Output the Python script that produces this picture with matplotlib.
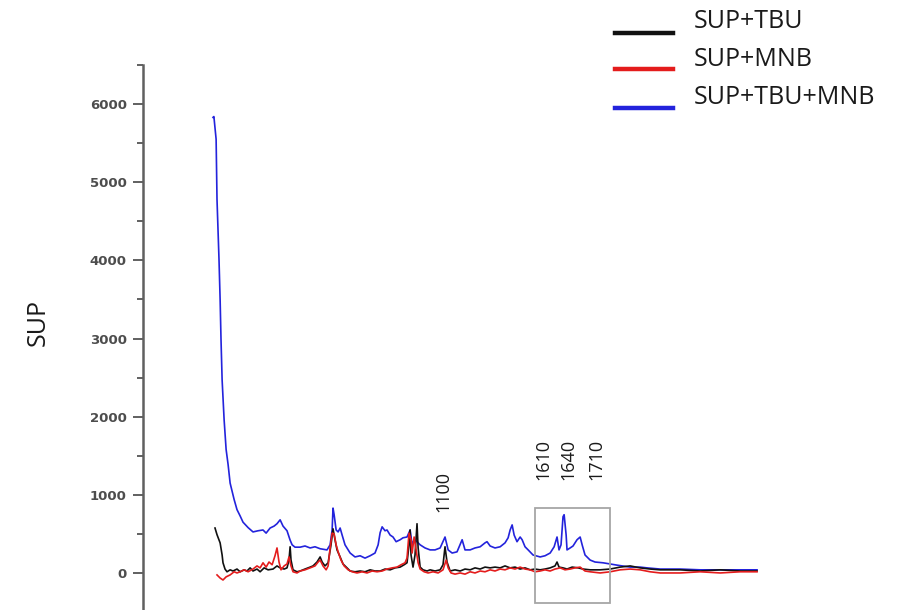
import matplotlib
matplotlib.use("Agg")
import matplotlib.pyplot as plt
from matplotlib.lines import Line2D
from matplotlib.patches import Rectangle
from matplotlib.ticker import MultipleLocator

# ---- data (Raman shift, intensity) ----
blue_x = [56, 60, 70, 74, 83, 88, 92, 97, 106, 115, 124, 133, 151, 164, 178, 191, 214, 236, 259, 281,
          295, 313, 331, 344, 358, 371, 389, 403, 412, 425, 448, 470, 493, 515, 538, 569, 583, 592, 596,
          601, 610, 619, 628, 637, 650, 673, 695, 718, 740, 763, 785, 799, 808, 817, 830, 839, 853, 866,
          880, 898, 911, 929, 943, 952, 961, 974, 988, 1010, 1033, 1055, 1078, 1100, 1114, 1132, 1154,
          1177, 1190, 1213, 1235, 1258, 1280, 1289, 1303, 1325, 1348, 1370, 1384, 1393, 1402, 1411, 1424,
          1438, 1447, 1460, 1474, 1496, 1528, 1550, 1573, 1591, 1604, 1613, 1622, 1631, 1636, 1645, 1649,
          1663, 1676, 1694, 1708, 1717, 1730, 1753, 1775, 1811, 1843, 1874, 1933, 1978, 2009, 2068, 2158,
          2248, 2338, 2428, 2504]
blue_y = [5830, 5840, 5550, 4780, 4010, 3500, 2990, 2470, 1960, 1580, 1385, 1150, 940, 810, 730, 650, 580,
          525, 540, 550, 510, 575, 600, 630, 680, 600, 540, 420, 360, 330, 330, 345, 320, 335, 310, 295,
          360, 550, 830, 745, 550, 525, 575, 485, 360, 255, 205, 220, 190, 220, 255, 360, 515, 590, 540,
          550, 485, 460, 400, 425, 450, 460, 550, 360, 425, 400, 360, 320, 295, 295, 320, 460, 295, 255,
          270, 425, 295, 295, 320, 335, 385, 400, 345, 320, 335, 385, 450, 550, 615, 485, 400, 460, 425,
          335, 295, 230, 205, 220, 255, 335, 460, 295, 360, 720, 745, 485, 295, 320, 345, 425, 460, 360,
          230, 165, 140, 130, 115, 100, 75, 75, 65, 50, 50, 40, 40, 40, 40]

black_x = [65, 74, 88, 97, 101, 110, 119, 133, 146, 164, 178, 196, 209, 223, 236, 254, 268, 286, 304, 326,
           344, 358, 376, 389, 398, 403, 407, 416, 434, 448, 470, 493, 506, 524, 538, 547, 560, 574, 587,
           596, 605, 614, 628, 641, 659, 673, 695, 718, 740, 763, 785, 808, 830, 853, 875, 898, 916, 929,
           938, 943, 947, 956, 965, 974, 979, 988, 1001, 1019, 1033, 1055, 1078, 1091, 1100, 1109, 1123,
           1145, 1168, 1190, 1213, 1235, 1258, 1280, 1303, 1325, 1348, 1370, 1393, 1415, 1438, 1460, 1483,
           1505, 1528, 1550, 1573, 1595, 1604, 1613, 1631, 1649, 1672, 1699, 1721, 1753, 1798, 1843, 1888,
           1933, 1978, 2023, 2068, 2158, 2248, 2338, 2428, 2504]
black_y = [575, 490, 385, 230, 130, 50, 15, 40, 25, 50, 15, 40, 25, 65, 25, 50, 15, 65, 40, 50, 90, 65, 50,
           65, 165, 335, 165, 40, 15, 25, 50, 75, 90, 140, 205, 140, 90, 130, 360, 565, 425, 295, 205, 115,
           65, 25, 15, 25, 15, 40, 25, 25, 50, 40, 65, 75, 105, 130, 360, 550, 230, 75, 230, 630, 320, 75,
           40, 25, 40, 25, 40, 105, 335, 140, 25, 40, 25, 50, 40, 65, 50, 75, 65, 75, 65, 90, 65, 75, 50,
           65, 40, 50, 40, 50, 65, 90, 140, 75, 65, 50, 75, 65, 50, 40, 40, 50, 75, 90, 65, 50, 40, 40, 25,
           40, 25, 25]

red_x = [74, 88, 101, 115, 133, 151, 164, 178, 196, 214, 236, 254, 268, 281, 295, 308, 322, 335, 344, 353,
         362, 376, 389, 398, 407, 416, 434, 448, 470, 493, 515, 529, 538, 551, 565, 574, 583, 592, 601, 610,
         619, 632, 646, 664, 682, 704, 727, 749, 772, 794, 817, 839, 862, 884, 902, 920, 929, 938, 947, 952,
         961, 970, 979, 988, 1006, 1024, 1046, 1069, 1091, 1105, 1114, 1127, 1145, 1168, 1190, 1213, 1235,
         1258, 1280, 1303, 1325, 1348, 1370, 1393, 1415, 1438, 1460, 1483, 1505, 1528, 1550, 1573, 1595,
         1618, 1640, 1663, 1685, 1708, 1730, 1753, 1798, 1843, 1888, 1933, 1978, 2023, 2068, 2158, 2248,
         2338, 2428, 2504]
red_y = [-25, -65, -90, -50, -25, 15, 0, 15, 40, 15, 50, 90, 65, 130, 75, 140, 105, 220, 320, 140, 40, 90,
         115, 205, 90, 15, 0, 25, 40, 65, 90, 140, 165, 90, 40, 90, 320, 510, 500, 360, 270, 165, 90, 40,
         15, 0, 15, 0, 25, 15, 25, 50, 65, 75, 105, 130, 190, 510, 425, 255, 460, 295, 130, 50, 15, 0, 15,
         0, 40, 165, 65, 0, -15, 0, -15, 15, 0, 25, 15, 40, 25, 50, 40, 65, 50, 75, 50, 40, 15, 25, 40, 25,
         50, 65, 40, 50, 65, 75, 25, 15, 0, 15, 40, 50, 40, 15, 0, 0, 15, 0, 15, 15]

series_labels = ["SUP+TBU", "SUP+MNB", "SUP+TBU+MNB"]
peak_labels = ["1100", "1610", "1640", "1710"]
peak_label_x = [1091, 1541, 1653, 1779]
peak_label_y = [780, 1190, 1190, 1190]
box_x = [1505, 1843]
box_y = [-385, 830]
y_ticks = [0, 1000, 2000, 3000, 4000, 5000, 6000]

W, H, DPI = 904, 610, 100
fig = plt.figure(figsize=(W / DPI, H / DPI), dpi=DPI)
fig.patch.set_facecolor("white")

ax = fig.add_axes([143 / W, 0.0, (800.6 - 143) / W, 545 / H])
ax.set_xlim(-259, 2700)
ax.set_ylim(-474, 6500)

ax.plot(blue_x, blue_y, color="#2323dc", lw=1.2, zorder=2)
ax.plot(black_x, black_y, color="#111111", lw=1.2, zorder=3)
ax.plot(red_x, red_y, color="#e41c1c", lw=1.2, zorder=4)

ax.add_patch(Rectangle((box_x[0], box_y[0]), box_x[1] - box_x[0], box_y[1] - box_y[0],
                       fill=False, edgecolor="#a6a6a6", lw=1.3, zorder=5))

for lab, lx, ly in zip(peak_labels, peak_label_x, peak_label_y):
    ax.text(lx, ly, lab, rotation=90, ha="center", va="bottom", fontsize=13,
            family="Open Sans", color="#1a1a1a")

for s in ["top", "right", "bottom"]:
    ax.spines[s].set_visible(False)
ax.spines["left"].set_color("#606060")
ax.spines["left"].set_linewidth(1.8)
ax.set_yticks(y_ticks)
ax.yaxis.set_minor_locator(MultipleLocator(500))
ax.tick_params(axis="y", which="major", length=7.2, width=1.4, color="#606060",
               labelsize=9.5, labelcolor="#4d4d4d", pad=4.5)
ax.tick_params(axis="y", which="minor", length=4.3, width=1.4, color="#606060")
for t in ax.get_yticklabels():
    t.set_fontweight("bold")
ax.set_xticks([])

fig.text(38 / W, 1 - 322 / H, "SUP", rotation=90, ha="center", va="center",
         fontsize=18, family="Open Sans", color="#1a1a1a")

# legend (manual)
line_colors = ["#111111", "#e41c1c", "#2323dc"]
line_y = [33, 69, 108]
text_y = [21, 59, 97]
for lab, c, ly, ty in zip(series_labels, line_colors, line_y, text_y):
    fig.add_artist(Line2D([615 / W, 673 / W], [1 - ly / H, 1 - ly / H], color=c, lw=3.2,
                          transform=fig.transFigure))
    fig.text(694 / W, 1 - ty / H, lab, ha="left", va="center", fontsize=18,
             family="Open Sans", color="#1a1a1a")

fig.savefig("out.png", dpi=DPI)
